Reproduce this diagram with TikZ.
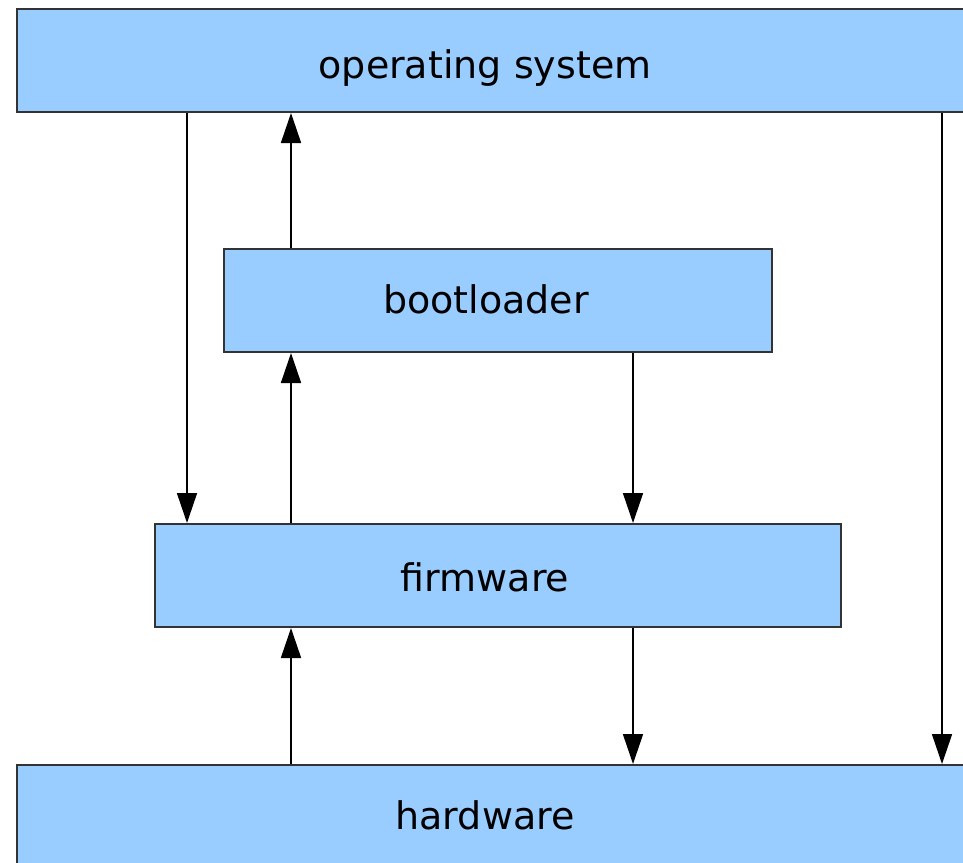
\documentclass[tikz,border=0pt]{standalone}
\usepackage{fontspec}
\setmainfont{DejaVu Sans}
\usetikzlibrary{arrows.meta}
\definecolor{boxfill}{HTML}{99CCFF}
\definecolor{boxline}{HTML}{333333}
\begin{document}
\begin{tikzpicture}[x=1pt,y=-1pt,
  layerbox/.style={draw=boxline, fill=boxfill, line width=2pt, rectangle, inner sep=0pt, anchor=north west},
  layertext/.style={anchor=base, font=\fontsize{38}{40}\selectfont, text=black, inner sep=0pt},
  flow/.style={draw=black, line width=1.6pt, -{Triangle[length=30pt,width=20pt]}}]
\useasboundingbox (0,0) rectangle (963,862);
\clip (0,0) rectangle (963,862);
\node[layerbox, minimum width=1000pt, minimum height=103pt] (os) at (16,8) {};
\node[layerbox, minimum width=548pt, minimum height=103pt] (boot) at (223,248) {};
\node[layerbox, minimum width=686pt, minimum height=103pt] (fw) at (154,523) {};
\node[layerbox, minimum width=1000pt, minimum height=150pt] (hw) at (16,764) {};
\node[layertext] (ostext) at (485,78) {operating system};
\node[layertext] (boottext) at (486,313) {bootloader};
\node[layertext] (fwtext) at (485,591) {firmware};
\node[layertext] (hwtext) at (485,829) {hardware};
\coordinate (xa) at (187,0);
\coordinate (xb) at (291,0);
\coordinate (xc) at (633,0);
\coordinate (xd) at (942,0);
\draw[flow] (xa |- os.south) -- (xa |- fw.north);
\draw[flow] (xb |- boot.north) -- (xb |- os.south);
\draw[flow] (xb |- fw.north) -- (xb |- boot.south);
\draw[flow] (xc |- boot.south) -- (xc |- fw.north);
\draw[flow] (xb |- hw.north) -- (xb |- fw.south);
\draw[flow] (xc |- fw.south) -- (xc |- hw.north);
\draw[flow] (xd |- os.south) -- (xd |- hw.north);
\end{tikzpicture}
\end{document}
